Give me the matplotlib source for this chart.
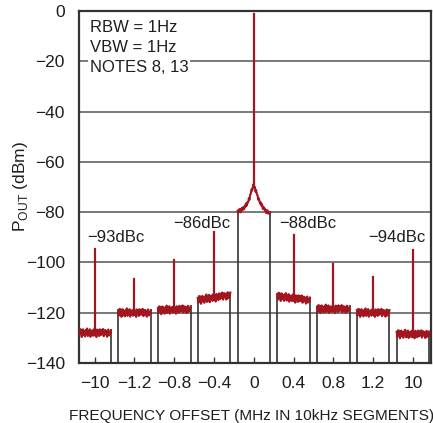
import matplotlib
matplotlib.use("Agg")
import matplotlib.pyplot as plt
import numpy as np

# ---- data ----
seg_labels = ["−10", "−1.2", "−0.8", "−0.4", "0", "0.4", "0.8", "1.2", "10"]
floor_left = [-128, -120, -119, -115, -80, -113.5, -118.5, -120, -128.5]
floor_right = [-128, -120, -118.5, -113, -80, -115, -118.5, -120, -128.5]
spur_dbm = [-94.5, -106.5, -99, -88, -1, -89, -100.5, -106, -95]
carrier_skirt_x = [-0.41, -0.3, -0.2, -0.12, -0.06, -0.02, 0.0, 0.02, 0.06, 0.12, 0.2, 0.3, 0.41]
carrier_skirt_db = [-80, -79, -77.5, -75, -71.5, -70, -69.5, -70, -72, -75, -77.5, -79.5, -80.5]
# hand-read ripple texture of the analyzer trace (dB)
ripple = [0.9, -1.2, 1.5, -0.4, 1.3, -1.7, 0.3, 1.4, -0.9, 0.6, -1.5, 1.1, -0.3,
          1.7, -1.3, 0.4, -0.8, 1.4, -1.6, 0.7, -0.6, 1.0, -1.2, 0.2, 1.6, -1.0,
          0.6, -1.7, 1.3, -0.4, 0.9, -1.3, 1.4, -0.2, -0.9, 1.2, -0.5, 1.5, -1.4,
          0.3, 1.1, -0.7, 0.8, -1.6, 0.5, 1.3, -1.1, 0.2, -0.6, 1.0]
dbc_labels = ["−93dBc", "−86dBc", "−88dBc", "−94dBc"]
dbc_pos = [(-3.48, -90.3), (-1.31, -84.6), (1.36, -84.6), (3.6, -90.3)]

RED = "#a3161f"
TXT = "#1e1e1e"
plt.rcParams["font.family"] = ["Liberation Sans", "DejaVu Sans"]
plt.rcParams["mathtext.fontset"] = "custom"
plt.rcParams["mathtext.rm"] = "Liberation Sans"

fig = plt.figure(figsize=(4.33, 4.23), dpi=100)
ax = fig.add_axes([0.182, 0.142, 0.813, 0.832])

centers = np.arange(-4, 5)
hw = 0.41
ax.set_xlim(-4.4, 4.45)
ax.set_ylim(-140, 0)

for yg in range(-120, 0, 20):
    ax.axhline(yg, color="#555555", lw=1.1, zorder=1)

r = np.array(ripple)
n = len(r)
for i, c in enumerate(centers):
    xs = np.linspace(c - hw, c + hw, n)
    if i == 4:
        base = np.interp(xs, np.array(carrier_skirt_x) + c, carrier_skirt_db)
        ys = base + 0.5 * r
    else:
        base = np.linspace(floor_left[i], floor_right[i], n)
        ys = base + r
    ax.plot(xs, ys, color=RED, lw=1.5, zorder=3)
    ax.plot([c - hw, c - hw], [-140, ys[0]], color="#333333", lw=1.2, zorder=2)
    ax.plot([c + hw, c + hw], [-140, ys[-1]], color="#333333", lw=1.2, zorder=2)
    mid = ys[n // 2]
    ax.plot([c, c], [mid, spur_dbm[i]], color=RED, lw=1.6, zorder=4)

for lab, (x, y) in zip(dbc_labels, dbc_pos):
    ax.text(x, y, lab, ha="center", va="center", fontsize=12, color=TXT, zorder=5)

ax.text(-4.13, -3.4, "RBW = 1Hz\nVBW = 1Hz\nNOTES 8, 13", ha="left", va="top",
        fontsize=12, color=TXT, linespacing=1.42, zorder=6,
        bbox=dict(facecolor="white", edgecolor="none", pad=1.5))

ax.set_xticks(centers)
ax.set_xticklabels(seg_labels)
ax.set_yticks(range(-140, 1, 20))
ax.set_yticklabels(["−140", "−120", "−100", "−80", "−60", "−40", "−20", "0"])
ax.tick_params(axis="both", direction="in", length=4, width=1, color="#333333",
               labelsize=12.5, labelcolor=TXT)
ax.tick_params(axis="x", pad=9.5)
ax.tick_params(axis="y", length=0, pad=10)
for s in ax.spines.values():
    s.set_color("#333333")
    s.set_linewidth(1.6)

ax.set_xlabel("FREQUENCY OFFSET (MHz IN 10kHz SEGMENTS)", fontsize=11.1, color=TXT)
ax.xaxis.set_label_coords(0.49, -0.13)
ax.set_ylabel(r"P$_{\mathrm{OUT}}$ (dBm)", fontsize=12.5, color=TXT)
ax.yaxis.set_label_coords(-0.14, 0.5)

fig.savefig("out.png", dpi=100)
